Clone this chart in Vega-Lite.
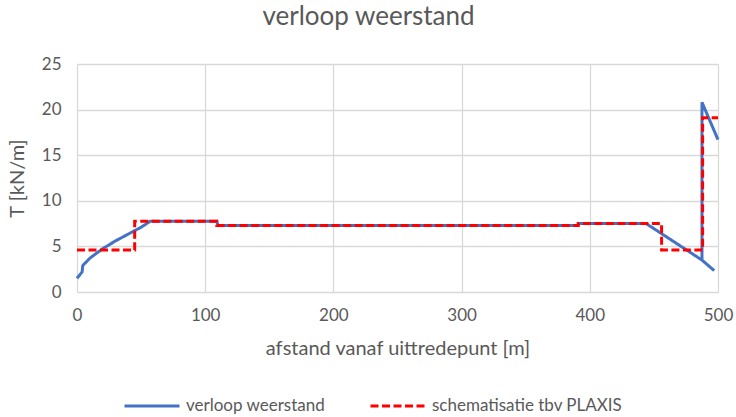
{
  "$schema": "https://vega.github.io/schema/vega-lite/v6.json",
  "width": 641,
  "height": 228,
  "autosize": "none",
  "padding": {"left": 77, "top": 64, "right": 18, "bottom": 125},
  "background": "white",
  "title": {
    "text": "verloop weerstand",
    "anchor": "middle",
    "dx": -29,
    "offset": 25,
    "font": "Lato",
    "fontSize": 26,
    "fontWeight": "normal",
    "color": "#595959"
  },
  "data": {
    "values": [
      {"serie": "verloop weerstand", "i": 0, "x": 0, "y": 1.5},
      {"serie": "verloop weerstand", "i": 1, "x": 4, "y": 2.2},
      {"serie": "verloop weerstand", "i": 2, "x": 4.5, "y": 2.9},
      {"serie": "verloop weerstand", "i": 3, "x": 10, "y": 3.7},
      {"serie": "verloop weerstand", "i": 4, "x": 20, "y": 4.75},
      {"serie": "verloop weerstand", "i": 5, "x": 30, "y": 5.6},
      {"serie": "verloop weerstand", "i": 6, "x": 40, "y": 6.35},
      {"serie": "verloop weerstand", "i": 7, "x": 50, "y": 7.1},
      {"serie": "verloop weerstand", "i": 8, "x": 57, "y": 7.75},
      {"serie": "verloop weerstand", "i": 9, "x": 109, "y": 7.75},
      {"serie": "verloop weerstand", "i": 10, "x": 110, "y": 7.3},
      {"serie": "verloop weerstand", "i": 11, "x": 390, "y": 7.3},
      {"serie": "verloop weerstand", "i": 12, "x": 392, "y": 7.5},
      {"serie": "verloop weerstand", "i": 13, "x": 444, "y": 7.5},
      {"serie": "verloop weerstand", "i": 14, "x": 487.5, "y": 3.5},
      {"serie": "verloop weerstand", "i": 15, "x": 497, "y": 2.35},
      {"serie": "verloop weerstand", "i": 16, "x": 487.5, "y": 3.5},
      {"serie": "verloop weerstand", "i": 17, "x": 487.5, "y": 20.8},
      {"serie": "verloop weerstand", "i": 18, "x": 500, "y": 16.7},
      {"serie": "schematisatie tbv PLAXIS", "i": 0, "x": 0, "y": 4.6},
      {"serie": "schematisatie tbv PLAXIS", "i": 1, "x": 45, "y": 4.6},
      {"serie": "schematisatie tbv PLAXIS", "i": 2, "x": 45, "y": 7.75},
      {"serie": "schematisatie tbv PLAXIS", "i": 3, "x": 109, "y": 7.75},
      {"serie": "schematisatie tbv PLAXIS", "i": 4, "x": 109, "y": 7.3},
      {"serie": "schematisatie tbv PLAXIS", "i": 5, "x": 391, "y": 7.3},
      {"serie": "schematisatie tbv PLAXIS", "i": 6, "x": 391, "y": 7.5},
      {"serie": "schematisatie tbv PLAXIS", "i": 7, "x": 456, "y": 7.5},
      {"serie": "schematisatie tbv PLAXIS", "i": 8, "x": 456, "y": 4.6},
      {"serie": "schematisatie tbv PLAXIS", "i": 9, "x": 488, "y": 4.6},
      {"serie": "schematisatie tbv PLAXIS", "i": 10, "x": 488, "y": 19.1},
      {"serie": "schematisatie tbv PLAXIS", "i": 11, "x": 500, "y": 19.1}
    ]
  },
  "mark": {"type": "line", "strokeWidth": 3, "clip": false},
  "encoding": {
    "x": {
      "field": "x",
      "type": "quantitative",
      "scale": {"domain": [0, 500], "nice": false, "zero": false},
      "axis": {
        "title": "afstand vanaf uittredepunt [m]",
        "values": [0, 100, 200, 300, 400, 500],
        "labelFlush": false,
        "labelPadding": 15,
        "titlePadding": 15
      }
    },
    "y": {
      "field": "y",
      "type": "quantitative",
      "scale": {"domain": [0, 25], "nice": false},
      "axis": {
        "title": "T [kN/m]",
        "values": [0, 5, 10, 15, 20, 25],
        "labelPadding": 16,
        "titlePadding": 14
      }
    },
    "color": {
      "field": "serie",
      "type": "nominal",
      "scale": {
        "domain": ["verloop weerstand", "schematisatie tbv PLAXIS"],
        "range": ["#4472C4", "#FF0000"]
      },
      "legend": {"title": null}
    },
    "strokeDash": {
      "field": "serie",
      "type": "nominal",
      "scale": {
        "domain": ["verloop weerstand", "schematisatie tbv PLAXIS"],
        "range": [[1, 0], [8, 3.5]]
      },
      "legend": {"title": null}
    },
    "order": {"field": "i", "type": "quantitative"}
  },
  "config": {
    "font": "Lato",
    "view": {"stroke": null},
    "axis": {
      "domain": false,
      "ticks": false,
      "grid": true,
      "gridColor": "#d9d9d9",
      "gridWidth": 1.3,
      "labelFont": "Lato",
      "labelFontSize": 17,
      "labelColor": "#595959",
      "titleFont": "Lato",
      "titleFontSize": 20,
      "titleFontWeight": "normal",
      "titleColor": "#595959"
    },
    "legend": {
      "orient": "none",
      "legendX": 46,
      "legendY": 313,
      "padding": 0,
      "direction": "horizontal",
      "symbolType": "stroke",
      "symbolSize": 3025,
      "symbolStrokeWidth": 3,
      "labelFont": "Lato",
      "labelFontSize": 17,
      "labelColor": "#595959",
      "labelOffset": 5,
      "labelLimit": 400,
      "columnPadding": 38
    }
  }
}
